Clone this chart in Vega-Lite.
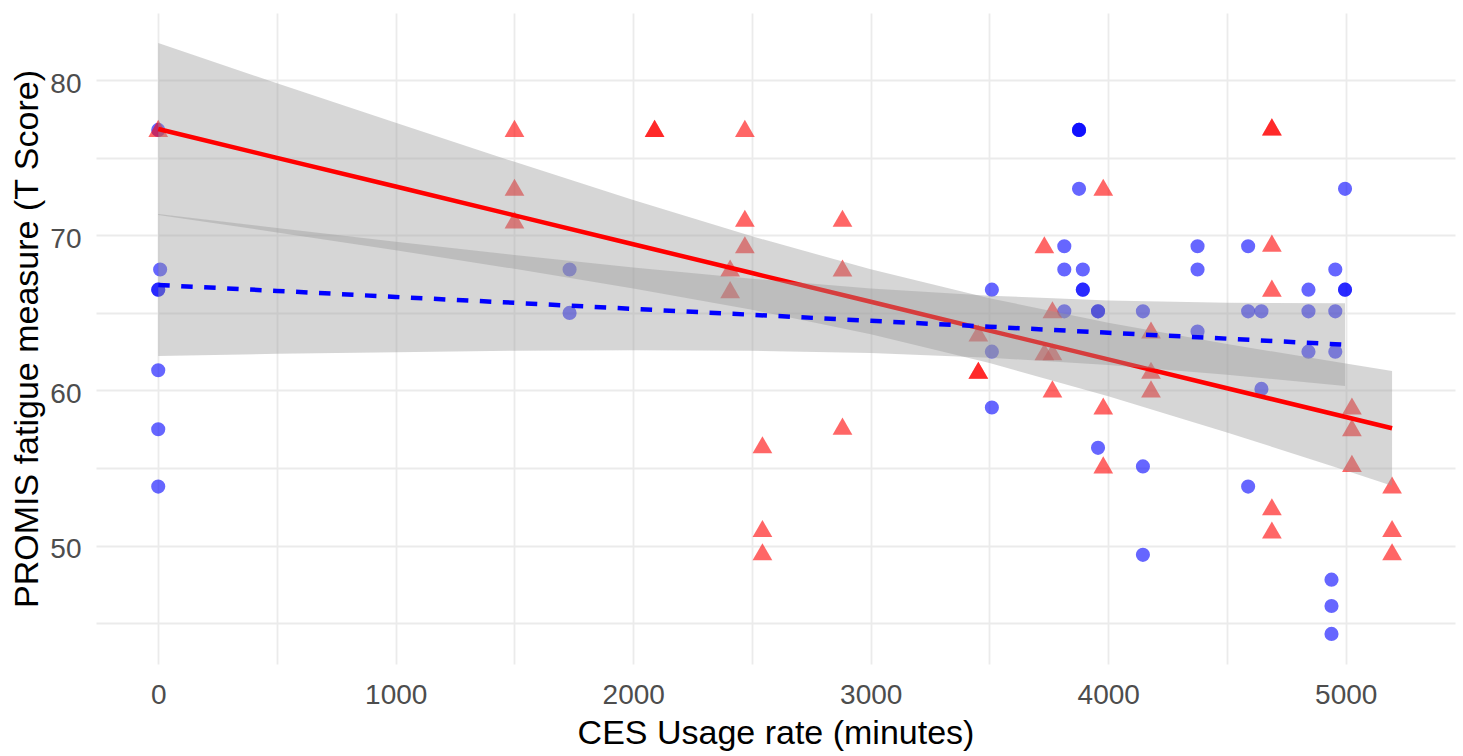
{
  "$schema": "https://vega.github.io/schema/vega-lite/v6.json",
  "width": 1359,
  "height": 651,
  "autosize": "none",
  "padding": {"left": 96, "top": 13, "right": 8, "bottom": 92},
  "background": "white",
  "config": {"view": {"stroke": null}, "font": "Liberation Sans"},
  "datasets": {
    "pts": [
      {"x": 0, "y": 76.8, "g": "A"}, {"x": 8, "y": 67.8, "g": "A"}, {"x": 0, "y": 66.5, "g": "A"}, {"x": 0, "y": 66.5, "g": "A"},
      {"x": 0, "y": 61.3, "g": "A"}, {"x": 0, "y": 57.5, "g": "A"}, {"x": 0, "y": 53.8, "g": "A"},
      {"x": 1732, "y": 67.8, "g": "A"}, {"x": 1732, "y": 65.0, "g": "A"},
      {"x": 3510, "y": 66.5, "g": "A"}, {"x": 3510, "y": 62.5, "g": "A"}, {"x": 3510, "y": 58.9, "g": "A"},
      {"x": 3815, "y": 69.3, "g": "A"}, {"x": 3815, "y": 67.8, "g": "A"}, {"x": 3815, "y": 65.1, "g": "A"},
      {"x": 3877, "y": 76.8, "g": "A"}, {"x": 3877, "y": 76.8, "g": "A"}, {"x": 3877, "y": 76.8, "g": "A"}, {"x": 3877, "y": 73.0, "g": "A"},
      {"x": 3893, "y": 67.8, "g": "A"}, {"x": 3893, "y": 66.5, "g": "A"}, {"x": 3893, "y": 66.5, "g": "A"},
      {"x": 3957, "y": 65.1, "g": "A"}, {"x": 3957, "y": 65.1, "g": "A"}, {"x": 3957, "y": 56.3, "g": "A"},
      {"x": 4146, "y": 65.1, "g": "A"}, {"x": 4146, "y": 55.1, "g": "A"}, {"x": 4146, "y": 49.4, "g": "A"},
      {"x": 4376, "y": 69.3, "g": "A"}, {"x": 4376, "y": 67.8, "g": "A"}, {"x": 4376, "y": 63.8, "g": "A"},
      {"x": 4589, "y": 69.3, "g": "A"}, {"x": 4589, "y": 65.1, "g": "A"}, {"x": 4589, "y": 53.8, "g": "A"},
      {"x": 4645, "y": 65.1, "g": "A"}, {"x": 4645, "y": 60.1, "g": "A"},
      {"x": 4843, "y": 66.5, "g": "A"}, {"x": 4843, "y": 65.1, "g": "A"}, {"x": 4843, "y": 62.5, "g": "A"},
      {"x": 4940, "y": 47.8, "g": "A"}, {"x": 4940, "y": 46.1, "g": "A"}, {"x": 4940, "y": 44.3, "g": "A"},
      {"x": 4956, "y": 67.8, "g": "A"}, {"x": 4956, "y": 65.1, "g": "A"}, {"x": 4956, "y": 62.5, "g": "A"},
      {"x": 4997, "y": 73.0, "g": "A"}, {"x": 4997, "y": 66.5, "g": "A"}, {"x": 4997, "y": 66.5, "g": "A"},
      {"x": 0, "y": 76.9, "g": "B"},
      {"x": 1500, "y": 76.9, "g": "B"}, {"x": 1500, "y": 73.1, "g": "B"}, {"x": 1500, "y": 71.0, "g": "B"},
      {"x": 2090, "y": 76.9, "g": "B"}, {"x": 2090, "y": 76.9, "g": "B"},
      {"x": 2408, "y": 67.9, "g": "B"}, {"x": 2408, "y": 66.5, "g": "B"},
      {"x": 2470, "y": 76.9, "g": "B"}, {"x": 2470, "y": 71.1, "g": "B"}, {"x": 2470, "y": 69.4, "g": "B"},
      {"x": 2544, "y": 56.5, "g": "B"}, {"x": 2544, "y": 51.1, "g": "B"}, {"x": 2544, "y": 49.6, "g": "B"},
      {"x": 2881, "y": 71.1, "g": "B"}, {"x": 2881, "y": 67.9, "g": "B"}, {"x": 2881, "y": 57.7, "g": "B"},
      {"x": 3453, "y": 63.7, "g": "B"}, {"x": 3453, "y": 61.3, "g": "B"}, {"x": 3453, "y": 61.3, "g": "B"},
      {"x": 3731, "y": 69.4, "g": "B"}, {"x": 3731, "y": 62.5, "g": "B"},
      {"x": 3765, "y": 65.2, "g": "B"}, {"x": 3765, "y": 62.5, "g": "B"}, {"x": 3765, "y": 60.1, "g": "B"},
      {"x": 3979, "y": 73.1, "g": "B"}, {"x": 3979, "y": 59.0, "g": "B"}, {"x": 3979, "y": 55.2, "g": "B"},
      {"x": 4180, "y": 63.9, "g": "B"}, {"x": 4180, "y": 61.3, "g": "B"}, {"x": 4180, "y": 60.1, "g": "B"},
      {"x": 4689, "y": 77.0, "g": "B"}, {"x": 4689, "y": 77.0, "g": "B"}, {"x": 4689, "y": 69.5, "g": "B"},
      {"x": 4689, "y": 66.6, "g": "B"}, {"x": 4689, "y": 52.5, "g": "B"}, {"x": 4689, "y": 51.0, "g": "B"},
      {"x": 5026, "y": 59.0, "g": "B"}, {"x": 5026, "y": 57.6, "g": "B"}, {"x": 5026, "y": 55.3, "g": "B"},
      {"x": 5195, "y": 53.9, "g": "B"}, {"x": 5195, "y": 51.1, "g": "B"}, {"x": 5195, "y": 49.6, "g": "B"}
    ],
    "fit": [
      {"g": "B", "x": 0, "fit": 76.86, "lo": 71.32, "hi": 82.40},
      {"g": "B", "x": 500, "fit": 75.00, "lo": 70.19, "hi": 79.81},
      {"g": "B", "x": 1000, "fit": 73.15, "lo": 69.04, "hi": 77.26},
      {"g": "B", "x": 1500, "fit": 71.29, "lo": 67.84, "hi": 74.74},
      {"g": "B", "x": 2000, "fit": 69.43, "lo": 66.58, "hi": 72.28},
      {"g": "B", "x": 2500, "fit": 67.57, "lo": 65.20, "hi": 69.94},
      {"g": "B", "x": 3000, "fit": 65.72, "lo": 63.63, "hi": 67.81},
      {"g": "B", "x": 3500, "fit": 63.86, "lo": 61.77, "hi": 65.95},
      {"g": "B", "x": 4000, "fit": 62.00, "lo": 59.63, "hi": 64.37},
      {"g": "B", "x": 4500, "fit": 60.14, "lo": 57.29, "hi": 62.99},
      {"g": "B", "x": 5000, "fit": 58.29, "lo": 54.84, "hi": 61.74},
      {"g": "B", "x": 5195, "fit": 57.56, "lo": 53.86, "hi": 61.26},
      {"g": "A", "x": 0, "fit": 66.80, "lo": 62.22, "hi": 71.38},
      {"g": "A", "x": 500, "fit": 66.42, "lo": 62.36, "hi": 70.48},
      {"g": "A", "x": 1000, "fit": 66.03, "lo": 62.47, "hi": 69.59},
      {"g": "A", "x": 1500, "fit": 65.65, "lo": 62.56, "hi": 68.74},
      {"g": "A", "x": 2000, "fit": 65.26, "lo": 62.59, "hi": 67.93},
      {"g": "A", "x": 2500, "fit": 64.88, "lo": 62.56, "hi": 67.20},
      {"g": "A", "x": 3000, "fit": 64.49, "lo": 62.41, "hi": 66.57},
      {"g": "A", "x": 3500, "fit": 64.11, "lo": 62.11, "hi": 66.11},
      {"g": "A", "x": 4000, "fit": 63.72, "lo": 61.64, "hi": 65.80},
      {"g": "A", "x": 4500, "fit": 63.34, "lo": 61.02, "hi": 65.66},
      {"g": "A", "x": 4997, "fit": 62.95, "lo": 60.28, "hi": 65.62}
    ]
  },
  "encoding": {
    "x": {
      "field": "x",
      "type": "quantitative",
      "scale": {"domain": [-262, 5460], "nice": false, "zero": false},
      "axis": {
        "title": "CES Usage rate (minutes)",
        "values": [0, 500, 1000, 1500, 2000, 2500, 3000, 3500, 4000, 4500, 5000],
        "format": "d",
        "labelExpr": "datum.value % 1000 === 0 ? datum.label : ''",
        "labelOverlap": false,
        "labelFlush": false,
        "grid": true,
        "gridColor": "#EBEBEB",
        "gridWidth": 1.8,
        "ticks": false,
        "tickSize": 0,
        "domain": false,
        "labelFont": "Liberation Sans",
        "labelFontSize": 28,
        "labelColor": "#4D4D4D",
        "labelPadding": 17,
        "titleFont": "Liberation Sans",
        "titleFontSize": 34,
        "titleFontWeight": "normal",
        "titleColor": "#000000",
        "titleBaseline": "alphabetic",
        "titleY": 79
      }
    },
    "y": {
      "field": "y",
      "type": "quantitative",
      "scale": {"domain": [42.36, 84.34], "nice": false, "zero": false},
      "axis": {
        "title": "PROMIS fatigue measure (T Score)",
        "values": [45, 50, 55, 60, 65, 70, 75, 80],
        "labelExpr": "datum.value % 10 === 0 ? datum.label : ''",
        "labelOverlap": false,
        "labelFlush": false,
        "grid": true,
        "gridColor": "#EBEBEB",
        "gridWidth": 1.8,
        "ticks": false,
        "tickSize": 0,
        "domain": false,
        "labelFont": "Liberation Sans",
        "labelFontSize": 28,
        "labelColor": "#4D4D4D",
        "labelPadding": 15,
        "labelOffset": 4,
        "titleFont": "Liberation Sans",
        "titleFontSize": 34,
        "titleFontWeight": "normal",
        "titleColor": "#000000",
        "titleBaseline": "alphabetic",
        "titleX": -59
      }
    }
  },
  "layer": [
    {
      "data": {"name": "pts"},
      "mark": {"type": "point", "filled": true, "opacity": 0.6, "strokeWidth": 0},
      "encoding": {
        "color": {"field": "g", "type": "nominal", "scale": {"domain": ["A", "B"], "range": ["#0000FF", "#FF0000"]}, "legend": null},
        "shape": {"field": "g", "type": "nominal", "scale": {"domain": ["A", "B"], "range": ["circle", "triangle-up"]}, "legend": null},
        "size": {"field": "g", "type": "nominal", "scale": {"domain": ["A", "B"], "range": [200, 390]}, "legend": null}
      }
    },
    {
      "data": {"name": "fit"},
      "transform": [{"filter": "datum.g === 'B'"}],
      "mark": {"type": "area", "color": "#999999", "fillOpacity": 0.4},
      "encoding": {
        "y": {"field": "lo", "type": "quantitative", "scale": {"domain": [42.36, 84.34], "nice": false, "zero": false}, "title": "PROMIS fatigue measure (T Score)"},
        "y2": {"field": "hi"}
      }
    },
    {
      "data": {"name": "fit"},
      "transform": [{"filter": "datum.g === 'B'"}],
      "mark": {"type": "line", "color": "#FF0000", "strokeWidth": 4.5},
      "encoding": {
        "y": {"field": "fit", "type": "quantitative", "scale": {"domain": [42.36, 84.34], "nice": false, "zero": false}, "title": "PROMIS fatigue measure (T Score)"}
      }
    },
    {
      "data": {"name": "fit"},
      "transform": [{"filter": "datum.g === 'A'"}],
      "mark": {"type": "area", "color": "#999999", "fillOpacity": 0.4},
      "encoding": {
        "y": {"field": "lo", "type": "quantitative", "scale": {"domain": [42.36, 84.34], "nice": false, "zero": false}, "title": "PROMIS fatigue measure (T Score)"},
        "y2": {"field": "hi"}
      }
    },
    {
      "data": {"name": "fit"},
      "transform": [{"filter": "datum.g === 'A'"}],
      "mark": {"type": "line", "color": "#0000FF", "strokeWidth": 4.5, "strokeDash": [11.5, 11.5], "strokeCap": "butt"},
      "encoding": {
        "y": {"field": "fit", "type": "quantitative", "scale": {"domain": [42.36, 84.34], "nice": false, "zero": false}, "title": "PROMIS fatigue measure (T Score)"}
      }
    }
  ]
}
